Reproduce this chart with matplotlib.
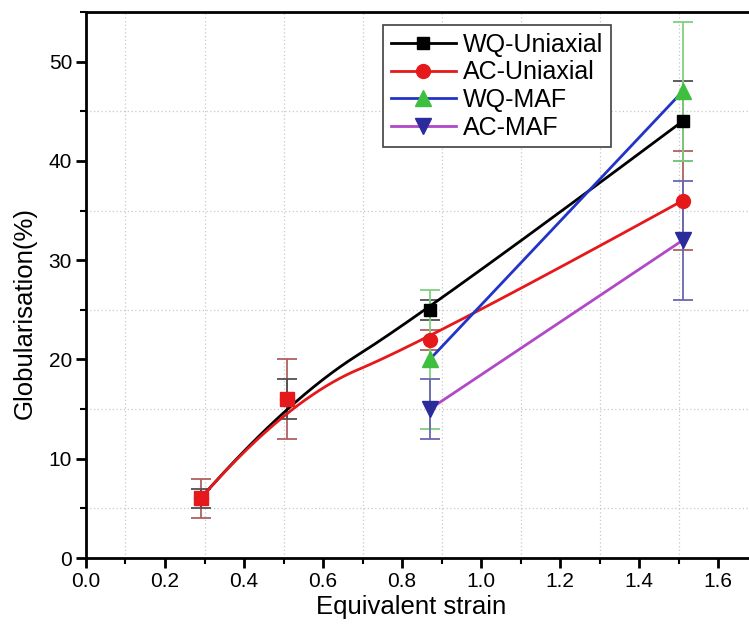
import numpy as np
import matplotlib
matplotlib.use("Agg")
import matplotlib.pyplot as plt
from matplotlib.ticker import MultipleLocator, FormatStrFormatter

# Equivalent strain and globularisation data
strain_uni = [0.29, 0.51, 0.87, 1.51]
wq_uni = [6, 16, 25, 44]
wq_uni_err = [1, 2, 1, 4]
ac_uni = [6, 16, 22, 36]
ac_uni_err = [2, 4, 1, 5]

strain_maf = [0.87, 1.51]
wq_maf = [20, 47]
wq_maf_err = [7, 7]
ac_maf = [15, 32]
ac_maf_err = [3, 6]

labels = ["WQ-Uniaxial", "AC-Uniaxial", "WQ-MAF", "AC-MAF"]


def bspline_curve(x, y, n=150):
    """Clamped quadratic B-spline using the data points as control points."""
    P = np.column_stack([np.asarray(x, float), np.asarray(y, float)])
    if len(P) < 3:
        return P[:, 0], P[:, 1]
    # split into quadratic Bezier pieces joined at midpoints of inner control points
    starts = [P[0]] + [(P[i] + P[i + 1]) / 2 for i in range(1, len(P) - 2)]
    ends = starts[1:] + [P[-1]]
    ctrls = P[1:-1]
    t = np.linspace(0, 1, n)[:, None]
    pieces = [(1 - t) ** 2 * a + 2 * t * (1 - t) * c + t ** 2 * b
              for a, c, b in zip(starts, ctrls, ends)]
    pts = np.vstack(pieces)
    return pts[:, 0], pts[:, 1]


plt.rcParams["font.family"] = ["Liberation Sans", "DejaVu Sans"]

fig = plt.figure(figsize=(7.49, 6.25), dpi=100)
ax = fig.add_axes([0.1148, 0.1072, 0.8852, 0.8736])

c_black = "#000000"
c_red = "#e5191c"
c_green = "#3fbf3f"
c_blue = "#2233c8"
c_navy = "#2b2b9c"
c_purple = "#b048c8"

# error bars
eb = dict(fmt="none", elinewidth=1.3, capsize=7, capthick=1.3, zorder=2)
ax.errorbar(strain_uni, ac_uni, yerr=ac_uni_err, ecolor="#b06060", **eb)
ax.errorbar(strain_uni, wq_uni, yerr=wq_uni_err, ecolor="#505050", **eb)
ax.errorbar(strain_maf, wq_maf, yerr=wq_maf_err, ecolor="#80d080", **eb)
ax.errorbar(strain_maf, ac_maf, yerr=ac_maf_err, ecolor="#6868b0", **eb)

# smooth connecting lines
xs, ys = bspline_curve(strain_uni, wq_uni)
ax.plot(xs, ys, color=c_black, lw=2, zorder=3)
xs, ys = bspline_curve(strain_uni, ac_uni)
ax.plot(xs, ys, color=c_red, lw=2, zorder=3)
ax.plot(strain_maf, wq_maf, color=c_blue, lw=2, zorder=3)
ax.plot(strain_maf, ac_maf, color=c_purple, lw=2, zorder=3)

# markers
ax.plot(strain_uni, wq_uni, ls="none", marker="s", ms=9, color=c_black, zorder=4)
ax.plot(strain_uni, ac_uni, ls="none", marker="o", ms=10, color=c_red, zorder=4)
ax.plot(strain_maf, wq_maf, ls="none", marker="^", ms=11, color=c_green, zorder=4)
ax.plot(strain_maf, ac_maf, ls="none", marker="v", ms=11, color=c_navy, zorder=4)
# coincident uniaxial points at low strain
ax.plot(strain_uni[:2], ac_uni[:2], ls="none", marker="s", ms=10, color=c_red, zorder=5)

# legend handles
h1, = ax.plot([], [], color=c_black, lw=2, marker="s", ms=9)
h2, = ax.plot([], [], color=c_red, lw=2, marker="o", ms=10)
h3, = ax.plot([], [], color=c_blue, lw=2, marker="^", ms=11, mfc=c_green, mec=c_green)
h4, = ax.plot([], [], color=c_purple, lw=2, marker="v", ms=11, mfc=c_navy, mec=c_navy)
leg = ax.legend([h1, h2, h3, h4], labels, loc="upper left",
                bbox_to_anchor=(0.448, 0.976), borderaxespad=0, fontsize=18,
                handlelength=2.6, handletextpad=0.3, labelspacing=0.15,
                borderpad=0.3, fancybox=False, framealpha=1, edgecolor="#404040")
leg.get_frame().set_linewidth(1.2)

ax.set_xlim(0, 1.678)
ax.set_ylim(0, 55)
ax.xaxis.set_major_locator(MultipleLocator(0.2))
ax.xaxis.set_minor_locator(MultipleLocator(0.1))
ax.yaxis.set_major_locator(MultipleLocator(10))
ax.yaxis.set_minor_locator(MultipleLocator(5))
ax.xaxis.set_major_formatter(FormatStrFormatter("%.1f"))

ax.grid(which="minor", color="#c8c8c8", ls=(0, (1, 2)), lw=0.9)
ax.grid(which="major", visible=False)
ax.set_axisbelow(True)

ax.tick_params(which="major", direction="out", length=7, width=2, labelsize=15, pad=3)
ax.tick_params(which="minor", direction="out", length=4, width=1.5)
ax.tick_params(top=False, right=False)

for side in ["left", "bottom", "top"]:
    ax.spines[side].set_linewidth(2)
ax.spines["right"].set_visible(False)

ax.set_xlabel("Equivalent strain", fontsize=18.5)
ax.set_ylabel("Globularisation(%)", fontsize=18.5)
ax.xaxis.set_label_coords(0.491, -0.068)
ax.yaxis.set_label_coords(-0.074, 0.449)

fig.savefig("out.png", dpi=100)
